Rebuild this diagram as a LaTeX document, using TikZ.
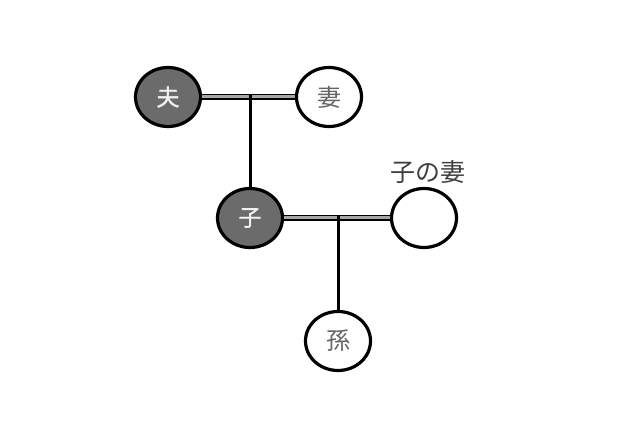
\documentclass[tikz,border=0pt]{standalone}
\usepackage{fontspec}
\newfontfamily\cjk{Noto Sans CJK JP}
\newfontfamily\cjkmed[FakeBold=1.2]{Noto Sans CJK JP}
\usetikzlibrary{shapes.geometric}
\begin{document}
\begin{tikzpicture}[x=1pt,y=-1pt,
  person/.style={ellipse,draw=black,line width=3.2pt,minimum width=65pt,minimum height=59pt,inner sep=0pt,font=\cjk\fontsize{24}{28}\selectfont},
  dark/.style={person,fill=black!58,text=black!6,font=\cjkmed\fontsize{23}{28}\selectfont},
  light/.style={person,fill=white,text=black!60},
  marriage/.style={double=black!35,double distance=3pt,line width=1.8pt,draw=black},
  descent/.style={line width=3pt,draw=black}]
\useasboundingbox (0,0) rectangle (640,427);
\node[dark] (hus) at (168,97) {夫};
\node[light] (wife) at (329,97) {妻};
\node[dark] (son) at (250,218) {子};
\node[light] (dil) at (424,218) {};
\node[font=\cjk\fontsize{25}{28}\selectfont,text=black!75] (dillab) at (428,172) {子の妻};
\node[light] (gc) at (338,341) {孫};
\draw[marriage] (hus) -- (wife);
\draw[marriage] (son) -- (dil);
\coordinate (m1) at (250,97);
\coordinate (m2) at (338,218);
\draw[descent] ([yshift=3pt]m1) -- (son);
\draw[descent] ([yshift=3pt]m2) -- (gc);
\end{tikzpicture}
\end{document}
